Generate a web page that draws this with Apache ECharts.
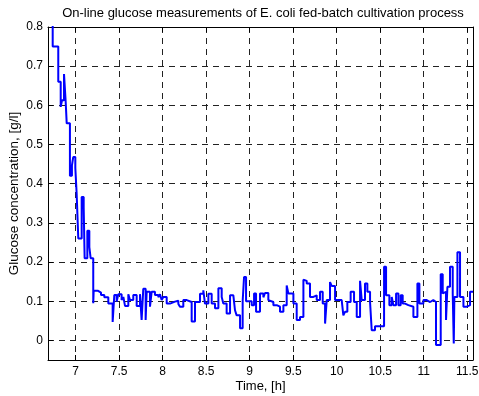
<!DOCTYPE html>
<html>
<head>
<meta charset="utf-8">
<script src="https://cdn.jsdelivr.net/npm/echarts@6/dist/echarts.min.js"></script>
<style>
  html, body { margin: 0; padding: 0; background: #fff; }
  #main { width: 479px; height: 396px; }
</style>
</head>
<body>
<div id="main"></div>
<script>
// stairs data: value held from each time until the next one
var times = [
  6.682, 6.736, 6.800, 6.828, 6.843, 6.866, 6.885, 6.897, 6.934, 6.957,
  6.972, 6.996, 7.011, 7.030, 7.069, 7.092, 7.103, 7.134, 7.157, 7.172,
  7.202, 7.207, 7.253, 7.291, 7.329, 7.375, 7.425, 7.444, 7.471, 7.490,
  7.528, 7.548, 7.567, 7.605, 7.624, 7.662, 7.701, 7.739, 7.758, 7.777,
  7.804, 7.816, 7.854, 7.873, 7.911, 7.950, 7.969, 7.988, 8.007, 8.046,
  8.084, 8.141, 8.180, 8.199, 8.237, 8.276, 8.333, 8.371, 8.429, 8.467,
  8.486, 8.525, 8.563, 8.601, 8.640, 8.678, 8.697, 8.735, 8.774, 8.812,
  8.831, 8.850, 8.889, 8.919, 8.935, 8.958, 9.023, 9.050, 9.073, 9.118,
  9.157, 9.176, 9.214, 9.233, 9.272, 9.310, 9.348, 9.387, 9.425, 9.444,
  9.502, 9.540, 9.578, 9.617, 9.636, 9.655, 9.693, 9.732, 9.770, 9.808,
  9.839, 9.866, 9.885, 9.923, 9.942, 9.981, 10.057, 10.076, 10.095, 10.122,
  10.160, 10.199, 10.230, 10.268, 10.287, 10.325, 10.352, 10.383, 10.402, 10.440,
  10.544, 10.567, 10.605, 10.632, 10.651, 10.682, 10.709, 10.735, 10.758, 10.785,
  10.823, 10.881, 10.927, 10.950, 10.996, 11.034, 11.073, 11.110, 11.141, 11.195,
  11.218, 11.233, 11.256, 11.272, 11.302, 11.333, 11.345, 11.352, 11.387, 11.417,
  11.456, 11.494, 11.532, 11.566
];
var glucose = [
  0.850, 0.750, 0.660, 0.596, 0.613, 0.680, 0.610, 0.554, 0.420, 0.447,
  0.468, 0.440, 0.376, 0.260, 0.366, 0.340, 0.210, 0.280, 0.238, 0.210,
  0.095, 0.127, 0.122, 0.116, 0.110, 0.094, 0.047, 0.116, 0.099, 0.118,
  0.103, 0.111, 0.088, 0.118, 0.103, 0.116, 0.088, 0.118, 0.052, 0.132,
  0.052, 0.124, 0.086, 0.124, 0.116, 0.110, 0.118, 0.103, 0.111, 0.094,
  0.099, 0.101, 0.093, 0.086, 0.103, 0.098, 0.048, 0.098, 0.119, 0.128,
  0.094, 0.119, 0.094, 0.082, 0.133, 0.111, 0.094, 0.069, 0.115, 0.120,
  0.077, 0.064, 0.031, 0.100, 0.162, 0.100, 0.090, 0.120, 0.073, 0.120,
  0.110, 0.121, 0.103, 0.098, 0.090, 0.086, 0.073, 0.090, 0.140, 0.120,
  0.094, 0.052, 0.060, 0.155, 0.152, 0.145, 0.111, 0.115, 0.103, 0.124,
  0.094, 0.043, 0.103, 0.149, 0.139, 0.103, 0.098, 0.064, 0.073, 0.098,
  0.124, 0.098, 0.060, 0.152, 0.103, 0.145, 0.124, 0.098, 0.026, 0.036,
  0.188, 0.115, 0.090, 0.111, 0.090, 0.120, 0.090, 0.115, 0.094, 0.090,
  0.086, 0.060, 0.145, 0.094, 0.103, 0.098, 0.103, 0.098, -0.012, 0.169,
  0.120, 0.124, 0.052, 0.137, 0.188, 0.120, -0.008, 0.111, 0.225, 0.111,
  0.086, 0.090, 0.124, 0.124
];
var xTicks = [7, 7.5, 8, 8.5, 9, 9.5, 10, 10.5, 11, 11.5];
var yTicks = [0, 0.1, 0.2, 0.3, 0.4, 0.5, 0.6, 0.7, 0.8];

var seriesData = times.map(function (t, i) { return [t, glucose[i]]; });

var chart = echarts.init(document.getElementById('main'));
var font = 'Liberation Sans, Arial, sans-serif';
var dashed = { show: true, lineStyle: { color: '#222', type: [6, 5], width: 1 } };

chart.setOption({
  animation: false,
  backgroundColor: '#fff',
  title: {
    text: 'On-line glucose measurements of E. coli fed-batch cultivation process',
    left: 258,
    textAlign: 'center',
    top: 2,
    textStyle: { fontFamily: font, fontSize: 13, fontWeight: 'normal', color: '#000' }
  },
  grid: { left: 48, right: 6, top: 27, bottom: 36, outerBoundsMode: 'none' },
  xAxis: [{
    type: 'value',
    min: 6.682,
    max: 11.566,
    name: 'Time, [h]',
    nameLocation: 'middle',
    nameGap: 20,
    nameMoveOverlap: false,
    nameTextStyle: { fontFamily: font, fontSize: 13, color: '#000' },
    axisLine: { onZero: false, lineStyle: { color: '#000', width: 1 } },
    axisTick: { inside: true, length: 5, customValues: xTicks, lineStyle: { color: '#000' } },
    axisLabel: { customValues: xTicks, margin: 6, fontFamily: font, fontSize: 12, color: '#000' },
    splitLine: dashed
  }, {
    type: 'value',
    position: 'top',
    min: 6.682,
    max: 11.566,
    axisLine: { onZero: false, lineStyle: { color: '#000', width: 1 } },
    axisTick: { inside: true, length: 5, customValues: xTicks, lineStyle: { color: '#000' } },
    axisLabel: { show: false },
    splitLine: { show: false }
  }],
  yAxis: [{
    type: 'value',
    min: -0.05,
    max: 0.8,
    name: 'Glucose concentration, [g/l]',
    nameLocation: 'middle',
    nameGap: 27,
    nameMoveOverlap: false,
    nameTextStyle: { fontFamily: font, fontSize: 13.5, color: '#000' },
    axisLine: { show: true, onZero: false, lineStyle: { color: '#000', width: 1 } },
    axisTick: { show: true, inside: true, length: 5, customValues: yTicks, lineStyle: { color: '#000' } },
    axisLabel: { customValues: yTicks, margin: 5, fontFamily: font, fontSize: 12, color: '#000' },
    splitLine: dashed
  }, {
    type: 'value',
    position: 'right',
    min: -0.05,
    max: 0.8,
    axisLine: { show: true, onZero: false, lineStyle: { color: '#000', width: 1 } },
    axisTick: { show: true, inside: true, length: 5, customValues: yTicks, lineStyle: { color: '#000' } },
    axisLabel: { show: false },
    splitLine: { show: false }
  }],
  series: [{
    type: 'line',
    step: 'end',
    data: seriesData,
    showSymbol: false,
    clip: true,
    lineStyle: { color: '#0000ff', width: 2 }
  }]
});
</script>
</body>
</html>
